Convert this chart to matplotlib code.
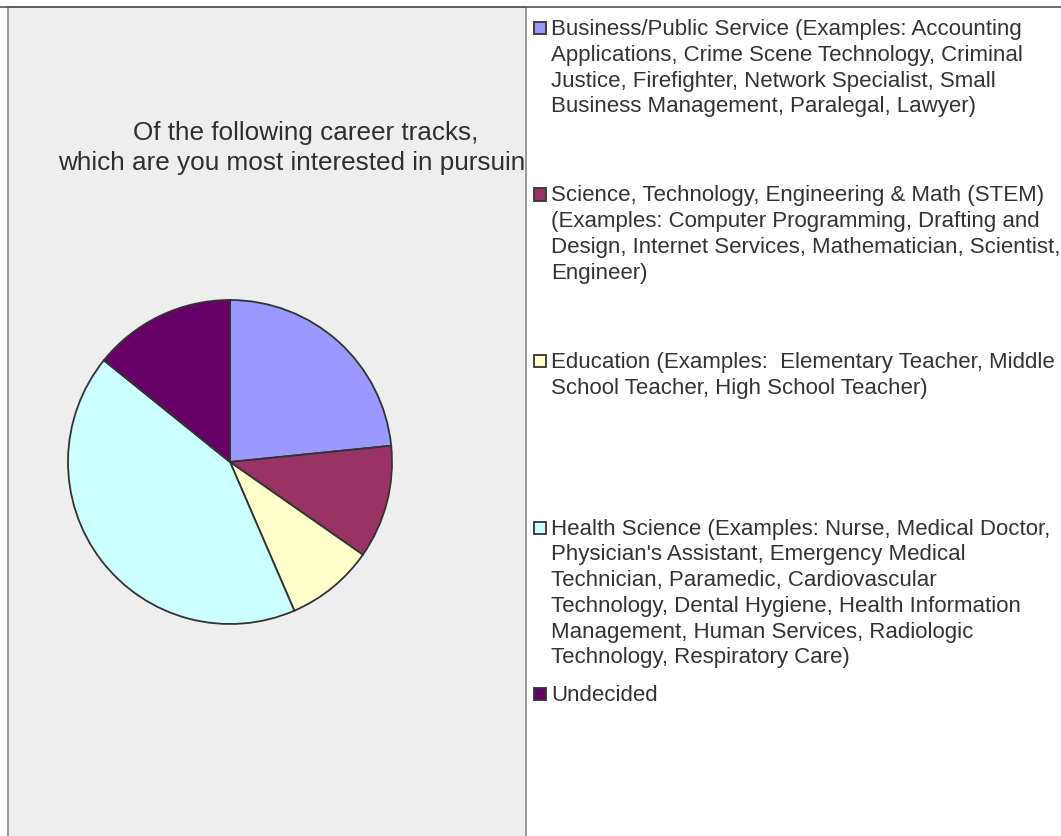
import matplotlib
matplotlib.use('Agg')
import matplotlib.pyplot as plt
from matplotlib.patches import Rectangle
from matplotlib.lines import Line2D

plt.rcParams['font.family'] = ['Liberation Sans', 'DejaVu Sans']

# chart data (shares of respondents, %)
labels = [
    'Business/Public Service (Examples: Accounting\nApplications, Crime Scene Technology, Criminal\n'
    'Justice, Firefighter, Network Specialist, Small\nBusiness Management, Paralegal, Lawyer)',
    'Science, Technology, Engineering & Math (STEM)\n(Examples: Computer Programming, Drafting and\n'
    'Design, Internet Services, Mathematician, Scientist,\nEngineer)',
    'Education (Examples:  Elementary Teacher, Middle\nSchool Teacher, High School Teacher)',
    "Health Science (Examples: Nurse, Medical Doctor,\nPhysician's Assistant, Emergency Medical\n"
    'Technician, Paramedic, Cardiovascular\nTechnology, Dental Hygiene, Health Information\n'
    'Management, Human Services, Radiologic\nTechnology, Respiratory Care)',
    'Undecided',
]
shares = [23.4, 11.3, 8.8, 42.3, 14.2]
colors = ['#9999FF', '#993366', '#FFFFCC', '#CCFFFF', '#660066']
title = 'Of the following career tracks,\nwhich are you most interested in pursuing?'

W, H = 1061, 837
fig = plt.figure(figsize=(W / 100, H / 100), dpi=100, facecolor='white')

def fx(px):
    return px / W

def fy(py):
    return 1 - py / H

# gray plot panel on the left
panel = fig.add_axes([fx(8), 0, fx(526 - 8), (H - 8) / H])
panel.set_facecolor('#EEEEEE')
panel.set_xticks([])
panel.set_yticks([])
for s in panel.spines.values():
    s.set_color('#888888')
    s.set_linewidth(1.2)
panel.spines['bottom'].set_visible(False)

# title, clipped at the panel edge like the original
panel.text(fx(306), fy(148), title, transform=fig.transFigure, ha='center', va='center',
           fontsize=18.8, color='#2e2e2e', linespacing=1.3, clip_on=True)

# pie
cx, cy, r = 230, 463, 162
box = 170
pax = fig.add_axes([fx(cx - box), fy(cy + box), fx(2 * box), (2 * box) / H])
pax.pie(shares, colors=colors, startangle=90, counterclock=False, radius=r / box,
        wedgeprops=dict(edgecolor='#333333', linewidth=1.3))
pax.set_xlim(-1, 1)
pax.set_ylim(-1, 1)
pax.set_aspect('equal')
pax.axis('off')

# top frame line across the whole image
fig.add_artist(Line2D([0, 1], [fy(8), fy(8)], transform=fig.transFigure,
                      color='#555555', linewidth=1.2))

# legend on the right
y0, step = 29, 166.5
for i, (lab, col) in enumerate(zip(labels, colors)):
    yc = y0 + i * step
    fig.add_artist(Rectangle((fx(534), fy(yc + 6)), fx(12), 12 / H, transform=fig.transFigure,
                             facecolor=col, edgecolor='#333333', linewidth=1.3))
    fig.text(fx(551), fy(yc - 10), lab, ha='left', va='top', fontsize=16,
             color='#333333', linespacing=1.3)

fig.savefig('out.png', dpi=100, facecolor='white')
